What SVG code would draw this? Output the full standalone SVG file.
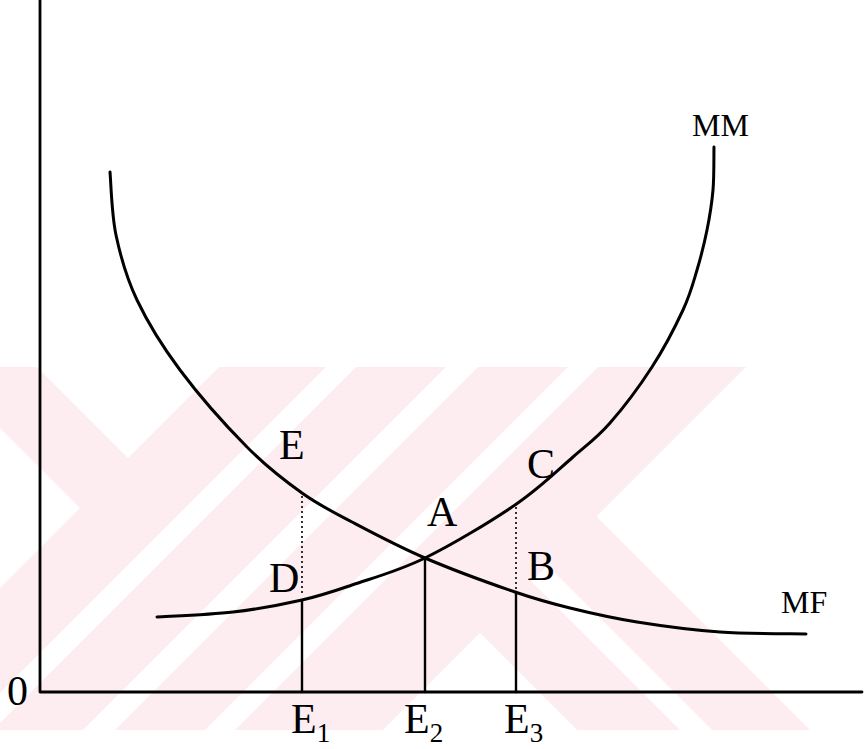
<svg xmlns="http://www.w3.org/2000/svg" width="865" height="749" viewBox="0 0 865 749">
<defs>
<style>
.ln{fill:none;stroke:#000;stroke-linecap:round;stroke-linejoin:round}
.ax{stroke-width:2.8}
.cv{stroke-width:3}
.vt{stroke-width:2.4}
.dt{stroke-width:1.6;stroke-dasharray:2 3;stroke-linecap:butt}
.lb{font-family:"Liberation Serif","Times New Roman",serif;fill:#000}
.big{font-size:42px}
.sm{font-size:32px}
.sub{font-size:27px}
.pk{fill:#fdecf0}
.wh{fill:#fff}
</style>
<clipPath id="band"><rect x="0" y="367" width="865" height="363"/></clipPath>
</defs>
<rect width="865" height="749" fill="#fff"/>
<g id="watermark" clip-path="url(#band)">
<path class="pk" d="M0,367 H746 L596.5,516.5 L810,730 H0 Z"/>
<path class="wh" d="M37,367 H219 L128,458 Z"/>
<path class="wh" d="M0,428 L80,508 L0,588 Z"/>
<path class="wh" d="M326,367 H356 L0,723 V693 Z"/>
<path class="wh" d="M446,367 H478 L115,730 H83 Z"/>
<path class="wh" d="M568,367 H598 L235,730 H205 Z"/>
<path class="wh" d="M480,633 L383,730 H577 Z"/>
<path class="wh" d="M531.5,581.5 L547.5,565.5 L712,730 H680 Z"/>
</g>
<g id="axes">
<path class="ln ax" d="M40,0 V692 H862"/>
</g>
<g id="curves">
<path id="MM" class="ln cv" d="M157,617 C169.7,616.2 208.8,614.8 233,612 C257.2,609.2 282.2,604.5 302,600 C321.8,595.5 331.5,592 352,585 C372.5,578 397.8,571.3 425,558 C452.2,544.7 490.3,521.8 515,505 C539.7,488.2 557.2,470.7 573,457 C588.8,443.3 596.8,438 610,423 C623.2,408 639.8,385.8 652,367 C664.2,348.2 675.5,326.2 683,310 C690.5,293.8 693,283.3 697,270 C701,256.7 704.3,243.3 707,230 C709.7,216.7 711.8,203.8 713,190 C714.2,176.2 713.8,154.2 714,147"/>
<path id="MF" class="ln cv" d="M110,172 C111,182.5 111.5,213.7 116,235 C120.5,256.3 126.3,277.5 137,300 C147.7,322.5 161.7,345.5 180,370 C198.3,394.5 226.7,426.5 247,447 C267.3,467.5 284.5,480.5 302,493 C319.5,505.5 331.5,511.2 352,522 C372.5,532.8 397.8,546.3 425,558 C452.2,569.7 490.8,583.7 515,592 C539.2,600.3 549.7,603 570,608 C590.3,613 612,618 637,622 C662,626 691.8,630 720,632 C748.2,634 791.7,633.7 806,634"/>
</g>
<g id="guides">
<path class="ln vt" d="M302,601 V692"/>
<path class="ln vt" d="M425,558 V692"/>
<path class="ln vt" d="M516,592 V692"/>
<path class="ln dt" d="M302,496 V594"/>
<path class="ln dt" d="M516,507 V590"/>
</g>
<g id="labels">
<text class="lb sm" x="692" y="136">MM</text>
<text class="lb sm" x="781" y="613">MF</text>
<text class="lb big" x="279" y="459">E</text>
<text class="lb big" x="527" y="478">C</text>
<text class="lb big" x="427" y="526">A</text>
<text class="lb big" x="527" y="580">B</text>
<text class="lb big" x="269" y="592">D</text>
<text class="lb big" x="7" y="705">0</text>
<text class="lb big" x="291" y="733">E<tspan class="sub" dy="9">1</tspan></text>
<text class="lb big" x="404" y="733">E<tspan class="sub" dy="9">2</tspan></text>
<text class="lb big" x="504" y="733">E<tspan class="sub" dy="9">3</tspan></text>
</g>
</svg>
